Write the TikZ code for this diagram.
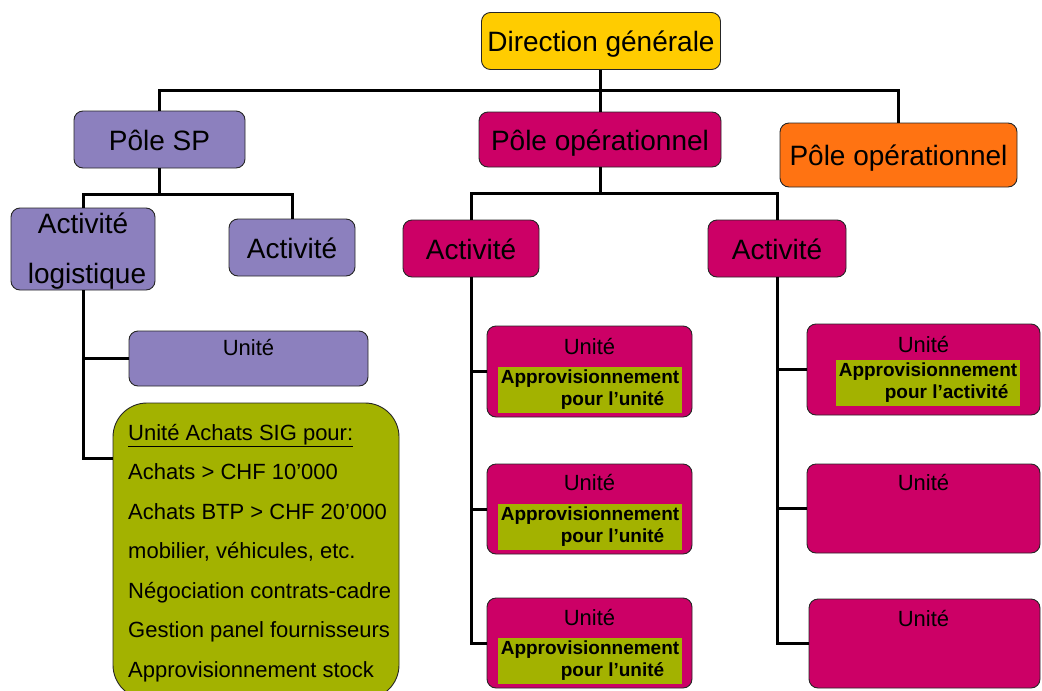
\documentclass[tikz,border=0pt]{standalone}
\usepackage{fontspec}
\setmainfont{Liberation Sans}
\definecolor{cyellow}{RGB}{255,204,0}
\definecolor{cpurple}{RGB}{140,128,190}
\definecolor{cmag}{RGB}{204,0,102}
\definecolor{corange}{RGB}{255,115,18}
\definecolor{cgreen}{RGB}{163,178,0}
\tikzset{
  box/.style={draw=black!85, line width=0.9pt, rounded corners=9pt, inner sep=0pt},
  big/.style={font=\fontsize{28}{34}\selectfont, text height=21.3pt, text depth=0pt},
  conn/.style={line width=3pt},
  hl/.style={fill=cgreen, inner xsep=3pt, inner ysep=0pt, minimum height=46pt, align=left,
             font=\fontsize{19}{22}\selectfont\bfseries},
  listline/.style={anchor=base west, inner sep=0pt, font=\fontsize{22}{26}\selectfont},
  bigline/.style={anchor=base, inner sep=0pt, font=\fontsize{28}{34}\selectfont},
  unittxt/.style={inner sep=0pt, font=\fontsize{22}{26}\selectfont}
}
\begin{document}
\begin{tikzpicture}[x=1pt,y=-1pt]
\useasboundingbox (0,0) rectangle (1042,691);
\clip (0,0) rectangle (1042,691);
% top level
\node[box, fill=cyellow, big, minimum width=239pt, minimum height=57pt] (dg) at (601,41) {Direction générale};
\node[box, fill=cpurple, big, minimum width=171pt, minimum height=57pt] (psp) at (159.5,139.5) {Pôle SP};
\node[box, fill=cmag, big, minimum width=242pt, minimum height=55pt] (pop) at (600,139.5) {Pôle opérationnel};
\node[box, fill=corange, big, minimum width=237pt, minimum height=64pt] (por) at (898.5,155) {Pôle opérationnel};
% activities
\node[box, fill=cpurple, minimum width=144pt, minimum height=82pt] (al) at (83,249) {};
\node[bigline] (alt1) at (83,233) {Activité};
\node[bigline] (alt2) at (87,283) {logistique};
\node[box, fill=cpurple, big, minimum width=126pt, minimum height=57pt] (a2) at (292,247.5) {Activité};
\node[box, fill=cmag, big, minimum width=136pt, minimum height=57pt] (am1) at (471,248.5) {Activité};
\node[box, fill=cmag, big, minimum width=138pt, minimum height=57pt] (am2) at (777,248.5) {Activité};
% purple unit
\node[box, fill=cpurple, minimum width=239pt, minimum height=55pt] (up) at (248.5,358.5) {};
\node[unittxt] (upt) at (248.5,348) {Unité};
% green unit
\node[box, fill=cgreen, rounded corners=34pt, minimum width=286pt, minimum height=296pt] (gr) at (256,551) {};
\node[listline] (g1) at (128,440) {\underline{Unité Achats SIG pour:}};
\node[listline] (g2) at (128,479.5) {Achats > CHF 10’000};
\node[listline] (g3) at (128,519) {Achats BTP > CHF 20’000};
\node[listline] (g4) at (128,558.5) {mobilier, véhicules, etc.};
\node[listline] (g5) at (128,598) {Négociation contrats-cadre};
\node[listline] (g6) at (128,637.5) {Gestion panel fournisseurs};
\node[listline] (g7) at (128,677) {Approvisionnement stock};
% left magenta units
\node[box, fill=cmag, minimum width=205pt, minimum height=91pt] (l1) at (589.5,371.5) {};
\node[box, fill=cmag, minimum width=205pt, minimum height=90pt] (l2) at (589.5,509) {};
\node[box, fill=cmag, minimum width=205pt, minimum height=90pt] (l3) at (589.5,643) {};
\node[unittxt] (l1t) at (589.5,347) {Unité};
\node[unittxt] (l2t) at (589.5,483) {Unité};
\node[unittxt] (l3t) at (589.5,617) {Unité};
\node[hl] (l1h) at (590,390) {Approvisionnement\\\hspace*{60pt}pour l’unité};
\node[hl] (l2h) at (590,526.5) {Approvisionnement\\\hspace*{60pt}pour l’unité};
\node[hl] (l3h) at (590,660.5) {Approvisionnement\\\hspace*{60pt}pour l’unité};
% right magenta units
\node[box, fill=cmag, minimum width=233pt, minimum height=91pt] (r1) at (923.5,369.5) {};
\node[box, fill=cmag, minimum width=233pt, minimum height=89pt] (r2) at (923.5,508.5) {};
\node[box, fill=cmag, minimum width=231pt, minimum height=89pt] (r3) at (924.5,643.5) {};
\node[unittxt] (r1t) at (923.5,345) {Unité};
\node[unittxt] (r2t) at (923.5,483) {Unité};
\node[unittxt] (r3t) at (923.5,618) {Unité};
\node[hl] (r1h) at (928,383) {Approvisionnement\\\hspace*{46pt}pour l’activité};
% connectors
\coordinate (bus1) at (600,90);
\coordinate (bus2) at (159.5,194);
\coordinate (bus3) at (600,193);
\coordinate (gin) at (113,458);
\draw[conn] (dg.south -| pop.north) -- (pop.north);
\draw[conn] (psp.north) |- (bus1) -| (por.north);
\draw[conn] (psp.south) -- (bus2);
\draw[conn] (al.north) |- (bus2) -| (a2.north);
\draw[conn] (al.south) |- (gin);
\draw[conn] (al.south |- up.west) -- (up.west);
\draw[conn] (pop.south) -- (bus3);
\draw[conn] (am1.north) |- (bus3) -| (am2.north);
\draw[conn] (am1.south) |- (l3.west);
\draw[conn] (am1.south |- l1.west) -- (l1.west);
\draw[conn] (am1.south |- l2.west) -- (l2.west);
\draw[conn] (am2.south) |- (r3.west);
\draw[conn] (am2.south |- r1.west) -- (r1.west);
\draw[conn] (am2.south |- r2.west) -- (r2.west);
\end{tikzpicture}
\end{document}
